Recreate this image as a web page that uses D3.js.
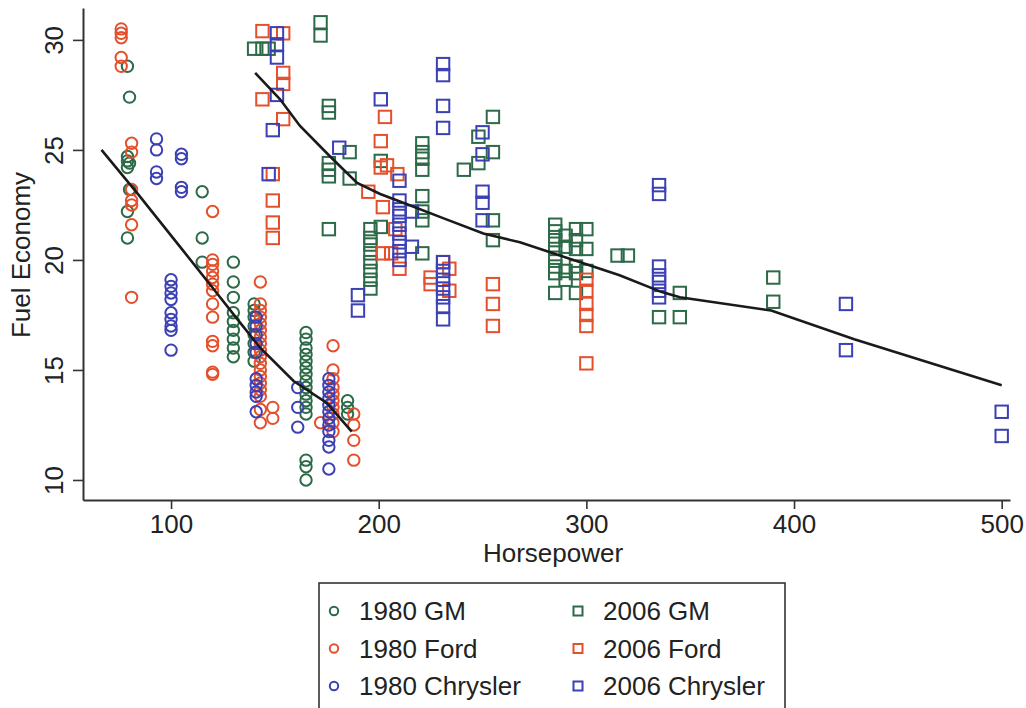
<!DOCTYPE html>
<html>
<head>
<meta charset="utf-8">
<script src="https://cdn.jsdelivr.net/npm/d3@7"></script>
<style>
  html, body { margin: 0; padding: 0; background: #fff; }
  svg text { font-family: "Liberation Sans", Arial, Helvetica, sans-serif; fill: #222; }
</style>
</head>
<body>
<svg id="chart" width="1026" height="708"></svg>
<script>
// Horsepower vs fuel economy, 1980 and 2006 models by maker: [horsepower, mpg]
const gm1980 = [
  [79,28.8],[80,27.4],[79,24.7],[79,24.5],[80,24.4],[79,24.2],[80,23.2],[79,22.2],[79,21.0],
  [115,23.1],[115,21.0],[115,19.9],
  [130,19.9],[130,19.0],[130,18.3],[130,17.6],[130,17.2],[130,16.8],[130,16.4],[130,16.0],[130,15.6],
  [140,18.0],[140,17.7],[140,17.4],[140,17.0],[140,16.6],[140,16.2],[140,15.8],[140,15.4],
  [165,16.7],[165,16.4],[165,16.0],[165,15.7],[165,15.4],[165,15.1],[165,14.8],[165,14.5],
  [165,14.2],[165,13.9],[165,13.6],[165,13.3],[165,13.0],
  [165,10.9],[165,10.6],[165,10.0],
  [185,13.6],[185,13.3],[185,13.0]
];
const ford1980 = [
  [76,30.5],[76,30.3],[76,30.1],[76,29.2],[76,28.8],
  [81,25.3],[81,24.9],[81,23.2],[81,22.7],[81,22.5],[81,21.6],[81,18.3],
  [120,22.2],[120,20.0],[120,19.8],[120,19.5],[120,19.2],[120,18.9],[120,18.6],[120,18.0],
  [120,17.4],[120,16.3],[120,16.1],[120,14.9],[120,14.8],
  [143,19.0],[143,18.0],[143,17.7],[143,17.4],[143,17.1],[143,16.8],[143,16.5],[143,16.2],
  [143,15.9],[143,15.6],[143,15.3],[143,15.0],[143,14.7],[143,14.4],[143,14.1],[143,13.8],
  [143,13.2],[143,12.6],
  [149,13.3],[149,12.8],
  [178,16.1],[178,15.0],[178,14.6],[178,14.2],[178,13.9],[178,13.6],[178,13.3],[178,13.0],
  [178,12.6],[172,12.6],[178,12.2],
  [188,13.0],[188,12.5],[188,11.8],[188,10.9]
];
const chrysler1980 = [
  [93,25.5],[93,25.0],[93,24.0],[93,23.7],
  [105,24.8],[105,24.6],[105,23.3],[105,23.1],
  [100,19.1],[100,18.8],[100,18.5],[100,18.2],[100,17.6],[100,17.3],[100,17.0],[100,16.8],[100,15.9],
  [141,17.4],[141,17.0],[141,16.6],[141,16.2],[141,15.8],[141,14.6],[141,14.3],[141,14.0],
  [141,13.8],[141,13.1],
  [161,14.2],[161,13.3],[161,12.4],
  [176,14.6],[176,14.3],[176,14.0],[176,13.7],[176,13.4],[176,13.1],[176,12.8],[176,12.5],
  [176,12.2],[176,11.8],[176,11.5],[176,10.5]
];
const gm2006 = [
  [140,29.6],[144,29.6],[147,29.6],[172,30.8],[172,30.2],
  [176,27.0],[176,26.7],[176,24.4],[176,24.1],[176,23.8],[176,21.4],
  [186,24.9],[186,23.7],
  [196,21.4],[196,21.0],[196,20.7],[196,20.3],[196,19.9],[196,19.5],[196,19.1],[196,18.7],
  [201,24.5],[201,21.5],
  [221,25.3],[221,24.9],[221,24.6],[221,24.1],[221,22.9],[221,22.2],[221,21.8],[221,20.3],
  [241,24.1],[248,25.6],[248,24.4],[255,26.5],[255,24.9],[255,21.8],[255,20.9],
  [285,21.6],[285,21.3],[285,20.9],[285,20.5],[285,20.1],[285,19.7],[285,19.4],[285,18.5],
  [290,21.1],[290,20.6],[290,19.5],[290,19.1],
  [295,21.4],[295,20.9],[295,20.5],[295,19.7],[295,19.4],[295,18.5],
  [300,21.4],[300,20.5],[300,19.5],
  [315,20.2],[320,20.2],
  [335,17.4],[345,18.5],[345,17.4],
  [390,19.2],[390,18.1]
];
const ford2006 = [
  [144,30.4],[154,30.3],[154,28.5],[154,28.0],[144,27.3],[154,26.4],
  [149,23.9],[149,22.7],[149,21.7],[149,21.0],
  [201,25.4],[203,26.5],[201,24.2],[204,24.3],[209,23.9],[195,23.1],[202,22.4],[208,21.4],
  [202,20.3],[206,20.3],[210,19.6],
  [225,19.2],[225,18.9],[231,19.9],[234,19.6],[234,18.6],
  [255,18.9],[255,18.0],[255,17.0],
  [300,19.1],[300,18.6],[300,18.0],[300,17.5],[300,17.0],[300,15.3]
];
const chrysler2006 = [
  [151,30.3],[151,29.8],[151,29.2],[151,27.5],[149,25.9],[147,23.9],
  [181,25.1],[201,27.3],
  [210,23.6],[210,22.7],[210,22.3],[210,22.0],[210,21.6],[210,21.2],[210,20.8],[210,20.4],
  [210,20.0],[216,22.2],[216,20.6],
  [190,18.4],[190,17.7],
  [231,28.9],[231,28.4],[231,27.0],[231,26.0],
  [231,19.9],[231,19.5],[231,19.1],[231,18.7],[231,18.3],[231,17.9],[231,17.3],
  [250,25.8],[250,24.8],[250,23.1],[250,22.6],[250,21.8],
  [335,23.4],[335,23.0],[335,19.7],[335,19.3],[335,19.0],[335,18.6],[335,18.3],
  [425,18.0],[425,15.9],
  [500,13.1],[500,12.0]
];

// Smoothed trend for each model year
const lowess1980 = [[66.5,25.0],[84,23.0],[106,20.4],[122,18.5],[132,17.3],[143,16.0],[159,14.5],[175,13.5],[187,12.2]];
const lowess2006 = [[140.5,28.5],[152.5,27.3],[162,26.1],[176.6,24.7],[189.6,23.5],[200.7,23.0],[211.8,22.6],
  [231,21.9],[250.4,21.2],[268,20.8],[284,20.3],[300,19.8],[316,19.3],[336,18.55],[345,18.3],
  [389,17.7],[429,16.4],[500,14.3]];

const seriesNames = ["1980 GM", "1980 Ford", "1980 Chrysler", "2006 GM", "2006 Ford", "2006 Chrysler"];
const xTicks = [100, 200, 300, 400, 500];
const yTicks = [10, 15, 20, 25, 30];

const green = "#2c6a48", red = "#e5502c", blue = "#3b40b4";
const series = [
  { name: seriesNames[0], data: gm1980, color: green, shape: "circle" },
  { name: seriesNames[1], data: ford1980, color: red, shape: "circle" },
  { name: seriesNames[2], data: chrysler1980, color: blue, shape: "circle" },
  { name: seriesNames[3], data: gm2006, color: green, shape: "square" },
  { name: seriesNames[4], data: ford2006, color: red, shape: "square" },
  { name: seriesNames[5], data: chrysler2006, color: blue, shape: "square" }
];

const svg = d3.select("#chart");
const plotLeft = 83, plotRight = 1010, plotTop = 8, plotBottom = 500;

const x = d3.scaleLinear().domain([57.6, 504]).range([plotLeft, plotRight]);
const y = d3.scaleLinear().domain([9.09, 31.45]).range([plotBottom, plotTop]);

const axisColor = "#333";

// X axis
const gx = svg.append("g").attr("transform", `translate(0,${plotBottom})`)
  .call(d3.axisBottom(x).tickValues(xTicks).tickSizeInner(9).tickSizeOuter(0)
    .tickPadding(6).tickFormat(d3.format("d")));
gx.select(".domain").attr("stroke", axisColor).attr("stroke-width", 2);
gx.selectAll(".tick line").attr("stroke", axisColor).attr("stroke-width", 1.6);
gx.selectAll(".tick text").style("font-size", "26px").attr("fill", "#222");

// Y axis with rotated tick labels
const gy = svg.append("g").attr("transform", `translate(${plotLeft},0)`)
  .call(d3.axisLeft(y).tickValues(yTicks).tickSizeInner(10).tickSizeOuter(0).tickFormat(d3.format("d")));
gy.select(".domain").attr("stroke", axisColor).attr("stroke-width", 2);
gy.selectAll(".tick line").attr("stroke", axisColor).attr("stroke-width", 1.6);
gy.selectAll(".tick text")
  .attr("x", null).attr("dy", null)
  .attr("text-anchor", "middle")
  .attr("transform", "translate(-20,0) rotate(-90)")
  .style("font-size", "26px").attr("fill", "#222");

// Axis titles
svg.append("text").attr("x", 553).attr("y", 562).attr("text-anchor", "middle")
  .style("font-size", "26px").text("Horsepower");
svg.append("text").attr("transform", "translate(30,255) rotate(-90)").attr("text-anchor", "middle")
  .style("font-size", "26px").text("Fuel Economy");

// Markers
const plot = svg.append("g");
series.forEach(s => {
  const g = plot.append("g");
  if (s.shape === "circle") {
    g.selectAll("circle").data(s.data).join("circle")
      .attr("cx", d => x(d[0])).attr("cy", d => y(d[1])).attr("r", 5.7)
      .attr("fill", "none").attr("stroke", s.color).attr("stroke-width", 2);
  } else {
    const h = 6.2;
    g.selectAll("rect").data(s.data).join("rect")
      .attr("x", d => x(d[0]) - h).attr("y", d => y(d[1]) - h)
      .attr("width", 2 * h).attr("height", 2 * h)
      .attr("fill", "none").attr("stroke", s.color).attr("stroke-width", 2);
  }
});

// Trend lines
const line = d3.line().x(d => x(d[0])).y(d => y(d[1]));
[lowess1980, lowess2006].forEach(l => {
  svg.append("path").datum(l).attr("d", line)
    .attr("fill", "none").attr("stroke", "#1a1a1a").attr("stroke-width", 2.6);
});

// Legend
const legend = svg.append("g");
legend.append("rect").attr("x", 319).attr("y", 583).attr("width", 466).attr("height", 140)
  .attr("fill", "#fff").attr("stroke", "#333").attr("stroke-width", 1.6);
series.forEach((s, i) => {
  const col = Math.floor(i / 3), row = i % 3;
  const mx = col === 0 ? 334 : 578;
  const my = 611 + row * 37.5;
  if (s.shape === "circle") {
    legend.append("circle").attr("cx", mx).attr("cy", my).attr("r", 4.2)
      .attr("fill", "none").attr("stroke", s.color).attr("stroke-width", 2);
  } else {
    legend.append("rect").attr("x", mx - 4.5).attr("y", my - 4.5).attr("width", 9).attr("height", 9)
      .attr("fill", "none").attr("stroke", s.color).attr("stroke-width", 2);
  }
  legend.append("text").attr("x", mx + 25).attr("y", my + 9)
    .style("font-size", "26px").text(s.name);
});
</script>
</body>
</html>
